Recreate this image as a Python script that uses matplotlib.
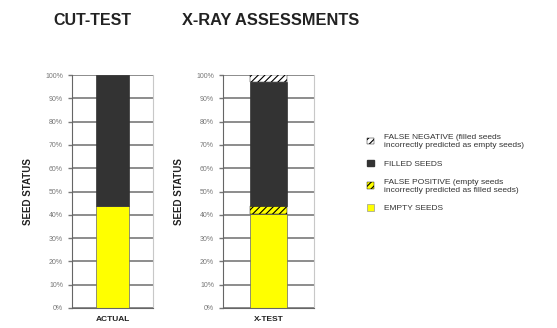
import matplotlib.pyplot as plt
import matplotlib.patches as mpatches
from matplotlib.ticker import PercentFormatter

plt.rcParams['font.family'] = ['Liberation Sans', 'DejaVu Sans']
plt.rcParams['hatch.linewidth'] = 0.8

# data (percent of seeds)
cut_labels = ["ACTUAL"]
cut_empty = [44]
cut_filled = [56]

xray_labels = ["X-TEST"]
xray_empty = [40.5]
xray_false_pos = [3.5]
xray_filled = [53]
xray_false_neg = [3]

yellow = "#ffff00"
dark = "#333333"


def style_axes(ax, xlabels):
    ax.set_ylim(0, 100)
    ax.set_xlim(-0.5, 0.5)
    ax.set_yticks(range(0, 101, 10))
    ax.yaxis.set_major_formatter(PercentFormatter(decimals=0))
    ax.set_xticks([0])
    ax.set_xticklabels(xlabels, fontsize=6, fontweight="bold", color="#222222")
    ax.tick_params(axis="y", labelsize=5, colors="#777777", length=3, width=1)
    ax.tick_params(axis="x", length=0, pad=6)
    ax.yaxis.grid(True, color="#8c8c8c", linewidth=1.4)
    ax.set_axisbelow(True)
    ax.spines["top"].set_visible(False)
    ax.spines["right"].set_color("#c8c8c8")
    ax.spines["right"].set_linewidth(0.8)
    ax.spines["left"].set_color("#666666")
    ax.spines["bottom"].set_color("#666666")
    ax.set_ylabel("SEED STATUS", fontsize=7, fontweight="bold", labelpad=9, color="#222222")


fig = plt.figure(figsize=(5.57, 3.28), dpi=100)

ax1 = fig.add_axes([0.1293, 0.061, 0.1454, 0.710])
ax1.bar(0, cut_empty, 0.4, color=yellow, edgecolor="#666666", linewidth=0.5)
ax1.bar(0, cut_filled, 0.4, bottom=cut_empty, color=dark, edgecolor="#333333", linewidth=0.5)
style_axes(ax1, cut_labels)

ax2 = fig.add_axes([0.4004, 0.061, 0.1634, 0.710])
ax2.bar(0, xray_empty, 0.4, color=yellow, edgecolor="#666666", linewidth=0.5)
b = xray_empty[0]
ax2.bar(0, xray_false_pos, 0.4, bottom=b, color=yellow, edgecolor="black", hatch="/////", linewidth=0.3)
b += xray_false_pos[0]
ax2.bar(0, xray_filled, 0.4, bottom=b, color=dark, edgecolor="#333333", linewidth=0.5)
b += xray_filled[0]
ax2.bar(0, xray_false_neg, 0.4, bottom=b, color="white", edgecolor="black", hatch="/////", linewidth=0.3)
style_axes(ax2, xray_labels)

fig.text(0.095, 0.938, "CUT-TEST", fontsize=11.5, fontweight="bold", color="#222222", va="center")
fig.text(0.327, 0.938, "X-RAY ASSESSMENTS", fontsize=11.8, fontweight="bold", color="#222222", va="center")

handles = [
    mpatches.Patch(facecolor="white", edgecolor="black", hatch="/////", linewidth=0.3),
    mpatches.Patch(facecolor=dark, edgecolor=dark),
    mpatches.Patch(facecolor=yellow, edgecolor="black", hatch="/////", linewidth=0.3),
    mpatches.Patch(facecolor=yellow, edgecolor="#999999", linewidth=0.5),
]
labels = [
    "FALSE NEGATIVE (filled seeds\nincorrectly predicted as empty seeds)",
    "FILLED SEEDS",
    "FALSE POSITIVE (empty seeds\nincorrectly predicted as filled seeds)",
    "EMPTY SEEDS",
]
fig.legend(handles, labels, loc="upper left", bbox_to_anchor=(0.646, 0.615),
           frameon=False, fontsize=6, handlelength=0.8, handleheight=0.8,
           handletextpad=1.2, labelspacing=1.3, labelcolor="#333333")

plt.savefig("out.png", dpi=100)
plt.close()
